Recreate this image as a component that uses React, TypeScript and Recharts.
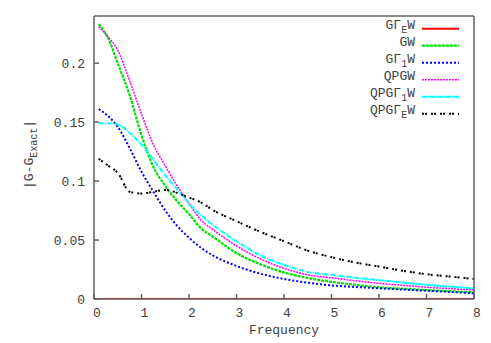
import React from 'react';
import { LineChart, Line, XAxis, YAxis } from 'recharts';

const frequency = [0.1, 0.3, 0.5, 0.75, 1, 1.25, 1.5, 1.75, 2, 2.25, 2.5, 3, 3.5, 4, 4.5, 5, 5.5, 6, 6.5, 7, 7.5, 8];
const gGammaEW = [0, 0, 0, 0, 0, 0, 0, 0, 0, 0, 0, 0, 0, 0, 0, 0, 0, 0, 0, 0, 0, 0];
const gw = [0.233, 0.221, 0.2, 0.173, 0.139, 0.112, 0.096, 0.083, 0.072, 0.06, 0.053, 0.039, 0.0295, 0.0225, 0.0178, 0.0145, 0.012, 0.0099, 0.0087, 0.0076, 0.0066, 0.0057];
const gGamma1W = [0.161, 0.155, 0.146, 0.128, 0.108, 0.091, 0.075, 0.062, 0.052, 0.0435, 0.037, 0.028, 0.0215, 0.017, 0.0138, 0.0115, 0.0102, 0.0091, 0.008, 0.007, 0.006, 0.0048];
const qpgw = [0.231, 0.222, 0.211, 0.185, 0.157, 0.131, 0.113, 0.096, 0.081, 0.067, 0.059, 0.045, 0.034, 0.026, 0.0205, 0.018, 0.0155, 0.0133, 0.0116, 0.01, 0.0088, 0.0076];
const qpgGamma1W = [0.149, 0.149, 0.148, 0.141, 0.131, 0.118, 0.105, 0.093, 0.081, 0.071, 0.063, 0.049, 0.037, 0.029, 0.023, 0.0205, 0.018, 0.016, 0.014, 0.012, 0.0105, 0.009];
const qpgGammaEW = [0.119, 0.113, 0.107, 0.091, 0.0895, 0.091, 0.0925, 0.09, 0.086, 0.082, 0.0755, 0.066, 0.057, 0.049, 0.041, 0.0355, 0.031, 0.0275, 0.024, 0.021, 0.019, 0.017];

const xTicks = [0, 1, 2, 3, 4, 5, 6, 7, 8];
const yTicks = [0, 0.05, 0.1, 0.15, 0.2];

type Part = [string, boolean];

const series: { key: string; values: number[]; label: Part[]; color: string; width: number; dash?: string }[] = [
  { key: 'gGammaEW', values: gGammaEW, label: [['GΓ', false], ['E', true], ['W', false]], color: '#ff0000', width: 2 },
  { key: 'gw', values: gw, label: [['GW', false]], color: '#00e000', width: 2.2, dash: '3 1' },
  { key: 'gGamma1W', values: gGamma1W, label: [['GΓ', false], ['1', true], ['W', false]], color: '#0000ff', width: 2, dash: '2 2' },
  { key: 'qpgw', values: qpgw, label: [['QPGW', false]], color: '#ff00ff', width: 1.5, dash: '2 1' },
  { key: 'qpgGamma1W', values: qpgGamma1W, label: [['QPGΓ', false], ['1', true], ['W', false]], color: '#00ffff', width: 2, dash: '5 1 1 1' },
  { key: 'qpgGammaEW', values: qpgGammaEW, label: [['QPGΓ', false], ['E', true], ['W', false]], color: '#000000', width: 2, dash: '2 1 2 4' },
];

const data = frequency.map((f, i) => {
  const row: Record<string, number> = { f };
  series.forEach((s) => {
    row[s.key] = s.values[i];
  });
  return row;
});

const FONT = '"Liberation Mono", "DejaVu Sans Mono", monospace';
const TEXT = '#404040';
const AXIS = '#606060';

function renderParts(parts: Part[], subSize: number, shift: number) {
  let prevSub = false;
  return parts.map(([t, sub], i) => {
    let dy = 0;
    if (sub && !prevSub) dy = shift;
    if (!sub && prevSub) dy = -shift;
    prevSub = sub;
    return (
      <tspan key={i} dy={dy} fontSize={sub ? subSize : undefined}>
        {t}
      </tspan>
    );
  });
}

const XTick = (props: any) => {
  const { x, y, payload } = props;
  return (
    <text x={x + 3} y={y} dy="0.71em" textAnchor="middle" fontFamily={FONT} fontSize={13} fill={TEXT}>
      {payload.value}
    </text>
  );
};

const YTick = (props: any) => {
  const { x, y, payload } = props;
  return (
    <text x={x} y={y} dy="0.35em" textAnchor="end" fontFamily={FONT} fontSize={13} fill={TEXT}>
      {payload.value}
    </text>
  );
};

const yLabelParts: Part[] = [['|G-G', false], ['Exact', true], ['|', false]];

const YLabel = (props: any) => {
  const vb = props.viewBox || { x: 0, y: 0, width: 0, height: 0 };
  const cx = vb.x + 25;
  const cy = vb.y + vb.height / 2 - 3;
  return (
    <text
      x={cx}
      y={cy}
      transform={`rotate(-90 ${cx} ${cy})`}
      textAnchor="middle"
      dy="0.35em"
      fontFamily={FONT}
      fontSize={13}
      fill={TEXT}
    >
      {renderParts(yLabelParts, 10, 4)}
    </text>
  );
};

const XLabel = (props: any) => {
  const vb = props.viewBox || { x: 0, y: 0, width: 0, height: 0 };
  return (
    <text
      x={vb.x + vb.width / 2}
      y={vb.y + 30}
      dy="0.35em"
      textAnchor="middle"
      fontFamily={FONT}
      fontSize={13}
      fill={TEXT}
    >
      Frequency
    </text>
  );
};

const W = 483;
const H = 335;

export default function App() {
  return (
    <div style={{ position: 'relative', width: W, height: H }}>
      <LineChart width={W} height={H} data={data} margin={{ top: 7, right: 16, bottom: 0, left: 0 }}>
        <XAxis
          dataKey="f"
          type="number"
          domain={[0, 8]}
          ticks={xTicks}
          allowDataOverflow
          height={44}
          stroke={AXIS}
          strokeWidth={1.5}
          tickSize={-5}
          tickMargin={14}
          tick={<XTick />}
          label={<XLabel />}
        />
        <XAxis
          xAxisId="top"
          orientation="top"
          dataKey="f"
          type="number"
          domain={[0, 8]}
          ticks={xTicks}
          height={1}
          stroke={AXIS}
          strokeWidth={1.5}
          tickSize={-5}
          tick={false}
        />
        <YAxis
          type="number"
          domain={[0, 0.24]}
          ticks={yTicks}
          allowDataOverflow
          width={86}
          stroke={AXIS}
          strokeWidth={1.5}
          tickSize={-5}
          tickMargin={14}
          tick={<YTick />}
          label={<YLabel />}
        />
        <YAxis
          yAxisId="right"
          orientation="right"
          type="number"
          domain={[0, 0.24]}
          ticks={yTicks}
          width={1}
          stroke={AXIS}
          strokeWidth={1.5}
          tickSize={-5}
          tick={false}
        />
        {series.map((s) => (
          <Line
            key={s.key}
            dataKey={s.key}
            type="monotone"
            stroke={s.color}
            strokeWidth={s.width}
            strokeDasharray={s.dash}
            dot={false}
            activeDot={false}
            isAnimationActive={false}
          />
        ))}
      </LineChart>
      <svg
        width={W}
        height={H}
        style={{ position: 'absolute', left: 0, top: 0, pointerEvents: 'none' }}
      >
        {series.map((s, i) => {
          const yc = 20.7 + i * 17;
          return (
            <g key={s.key}>
              <text x={407} y={yc} dy="0.35em" textAnchor="end" fontFamily={FONT} fontSize={13} fill={TEXT}>
                {renderParts(s.label, 10, 4)}
              </text>
              <line
                x1={414}
                x2={451}
                y1={yc}
                y2={yc}
                stroke={s.color}
                strokeWidth={s.width}
                strokeDasharray={s.dash}
              />
            </g>
          );
        })}
      </svg>
    </div>
  );
}
